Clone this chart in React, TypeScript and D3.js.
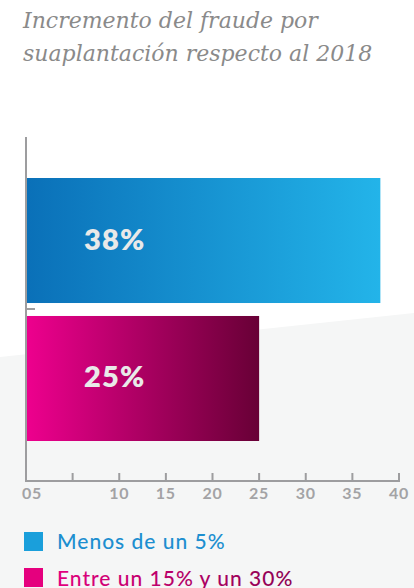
import React from "react";
import * as d3 from "d3";

const categories = ["Menos de un 5%", "Entre un 15% y un 30%"];
const values = [38, 25];
const valueLabels = ["38%", "25%"];
const tickValues = [0, 5, 10, 15, 20, 25, 30, 35, 40];
const tickLabels = ["05", "", "10", "15", "20", "25", "30", "35", "40"];
const titleLines = ["Incremento del fraude por", "suaplantación respecto al 2018"];

const W = 414;
const H = 588;

export default function App() {
  const x = d3.scaleLinear().domain([0, 40]).range([26, 399]);
  const y = d3.scaleBand<string>().domain(categories).range([178, 441]).paddingInner(0.094).paddingOuter(0);
  const grads = [
    ["#0a70b8", "#23b4e9"],
    ["#ee008e", "#680036"],
  ];
  const axisY = 481;
  const sans = "Lato, 'Open Sans', sans-serif";
  return (
    <svg width={W} height={H} style={{ position: "absolute", left: 0, top: 0, display: "block" }}>
      <defs>
        {grads.map((g, i) => (
          <linearGradient key={i} id={`g${i}`} x1="0" x2="1" y1="0" y2="0">
            <stop offset="0" stopColor={g[0]} />
            <stop offset="1" stopColor={g[1]} />
          </linearGradient>
        ))}
        <linearGradient id="lg1" x1="0" x2="1" y1="0" y2="0">
          <stop offset="0" stopColor="#e2007f" />
          <stop offset="1" stopColor="#8c0052" />
        </linearGradient>
      </defs>
      <rect x={0} y={0} width={W} height={H} fill="#ffffff" />
      <path d={`M0,357 L${W},313 L${W},${H} L0,${H} Z`} fill="#f5f6f6" />
      {titleLines.map((t, i) => (
        <text key={i} x={23} y={28 + i * 33} fontFamily="'DejaVu Serif', serif" fontStyle="italic" fontSize={22} fill="#8a8a8a">
          {t}
        </text>
      ))}
      {categories.map((c, i) => (
        <g key={c}>
          <rect x={x(0)} y={y(c)} width={x(values[i]) - x(0)} height={y.bandwidth()} fill={`url(#g${i})`} />
          <text x={x(0) + 58} y={(y(c) as number) + y.bandwidth() / 2 + 9} fontFamily={sans} fontWeight={800} fontSize={29} letterSpacing={1.2} fill="#e9e9e9">
            {valueLabels[i]}
          </text>
        </g>
      ))}
      <line x1={x(0)} x2={x(0)} y1={137} y2={axisY + 1} stroke="#9d9d9f" strokeWidth={2} />
      <line x1={x(0)} x2={x(0) + 9} y1={309} y2={309} stroke="#9d9d9f" strokeWidth={2} />
      <line x1={x(0) - 1} x2={x(40) + 1} y1={axisY} y2={axisY} stroke="#9d9d9f" strokeWidth={2} />
      {tickValues.map((t, i) => (
        <g key={t}>
          <line x1={x(t)} x2={x(t)} y1={axisY} y2={axisY - 8} stroke="#9d9d9f" strokeWidth={2} />
          <text x={x(t) + (i === 0 ? 6 : 0)} y={499} textAnchor="middle" fontFamily={sans} fontWeight={700} fontSize={16} letterSpacing={0.8} fill="#a3a3a5">
            {tickLabels[i]}
          </text>
        </g>
      ))}
      <rect x={24} y={532} width={19} height={19} fill="#1a9fdb" />
      <text x={57} y={549} fontFamily={sans} fontWeight={500} fontSize={21} letterSpacing={1} fill="#1d8fd0">
        {categories[0]}
      </text>
      <rect x={24} y={568} width={19} height={19} fill="#e5007e" />
      <text x={57} y={586} fontFamily={sans} fontWeight={500} fontSize={21} letterSpacing={1} fill="url(#lg1)">
        {categories[1]}
      </text>
    </svg>
  );
}
